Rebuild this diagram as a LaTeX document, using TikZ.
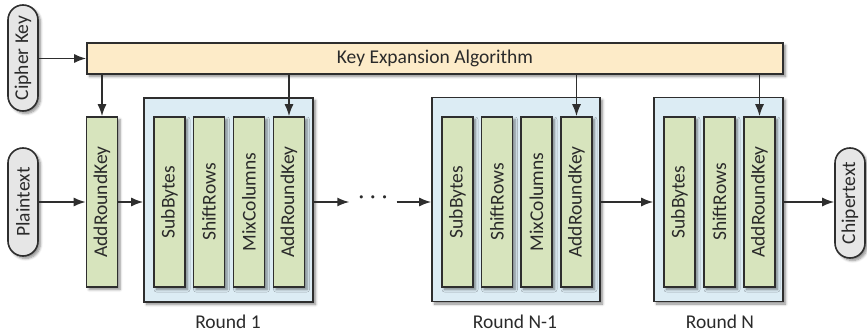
\documentclass[tikz,border=0pt]{standalone}
\usepackage{fontspec}
\setmainfont{Carlito}
\usetikzlibrary{arrows.meta,shadows.blur}

\definecolor{linec}{HTML}{2E2E2E}
\definecolor{textc}{HTML}{2A2A2A}
\definecolor{stepfill}{HTML}{D7E4BD}
\definecolor{roundfill}{HTML}{DCECF4}
\definecolor{keyfill}{HTML}{FDEBC8}
\definecolor{pillfill}{HTML}{E6E6E6}

\tikzset{
  softshadow/.style={blur shadow={shadow xshift=2.5pt, shadow yshift=-2.5pt,
      shadow blur steps=6, shadow blur radius=2.5pt, shadow opacity=45}},
  basebox/.style={draw=linec, line width=1.6pt, text=textc, inner sep=0pt,
      font=\fontsize{19.5}{22}\selectfont, softshadow},
  pill/.style={basebox, fill=pillfill, rounded corners=15pt, minimum width=30pt},
  stepbox/.style={basebox, fill=stepfill, minimum width=31pt, minimum height=170pt},
  roundbox/.style={basebox, fill=roundfill, minimum height=204pt},
  keybar/.style={basebox, fill=keyfill, minimum width=696pt, minimum height=31pt},
  roundlabel/.style={text=textc, font=\fontsize{19.5}{22}\selectfont, inner sep=0pt},
  flow/.style={draw=linec, line width=1.5pt, -{Latex[length=12pt,width=9pt]}}
}

\newcommand{\up}[1]{\rotatebox{90}{#1}}

\begin{document}
\begin{tikzpicture}[x=1pt, y=-1pt]
  \useasboundingbox (0,0) rectangle (867,334);

  % inputs and output
  \node[pill, minimum height=106pt] (cipher) at (23,58)  {\up{Cipher Key}};
  \node[pill, minimum height=108pt] (plain)  at (23,202) {\up{Plaintext}};
  \node[pill, minimum height=110pt] (chip)   at (850,203) {\up{Chipertext}};

  % key schedule
  \node[keybar] (kexp) at (435,58.5) {Key Expansion Algorithm};

  % initial round key addition
  \node[stepbox] (ark0) at (102,202) {\up{AddRoundKey}};

  % round 1
  \node[roundbox, minimum width=169pt] (r1) at (228.5,200) {};
  \node[stepbox] (r1sb) at (169.5,202) {\up{SubBytes}};
  \node[stepbox] (r1sr) at (209,202)   {\up{ShiftRows}};
  \node[stepbox] (r1mc) at (249,202)   {\up{MixColumns}};
  \node[stepbox] (r1ak) at (289,202)   {\up{AddRoundKey}};
  \node[roundlabel] (r1l) at (228,322) {Round 1};

  % round N-1
  \node[roundbox, minimum width=168pt] (rm) at (516,199.5) {};
  \node[stepbox] (rmsb) at (457.5,202) {\up{SubBytes}};
  \node[stepbox] (rmsr) at (497,202)   {\up{ShiftRows}};
  \node[stepbox] (rmmc) at (536.5,202) {\up{MixColumns}};
  \node[stepbox] (rmak) at (576.5,202) {\up{AddRoundKey}};
  \node[roundlabel] (rml) at (515,322) {Round N-1};

  % round N
  \node[roundbox, minimum width=129pt] (rn) at (718.5,199.5) {};
  \node[stepbox] (rnsb) at (679.5,202) {\up{SubBytes}};
  \node[stepbox] (rnsr) at (719.5,202) {\up{ShiftRows}};
  \node[stepbox] (rnak) at (759.5,202) {\up{AddRoundKey}};
  \node[roundlabel] (rnl) at (720,322) {Round N};

  % omitted rounds
  \node[inner sep=0pt, minimum width=47pt, text=textc,
        font=\fontsize{22}{22}\selectfont] (dots) at (373,200)
        {·\hspace{6pt}·\hspace{6pt}·};

  % data path
  \draw[flow] (cipher.east |- kexp) -- (kexp.west);
  \draw[flow] (plain.east |- ark0) -- (ark0.west);
  \draw[flow] (ark0.east) -- (r1.west |- ark0);
  \draw[flow] (r1.east |- ark0) -- (dots.west |- ark0);
  \draw[flow] (dots.east |- ark0) -- (rm.west |- ark0);
  \draw[flow] (rm.east |- ark0) -- (rn.west |- ark0);
  \draw[flow] (rn.east |- ark0) -- (chip.west |- ark0);

  % round keys
  \draw[flow] (kexp.south -| ark0) -- (ark0.north);
  \draw[flow] (kexp.south -| r1ak) -- (r1ak.north);
  \draw[flow] (kexp.south -| rmak) -- (rmak.north);
  \draw[flow] (kexp.south -| rnak) -- (rnak.north);
\end{tikzpicture}
\end{document}
